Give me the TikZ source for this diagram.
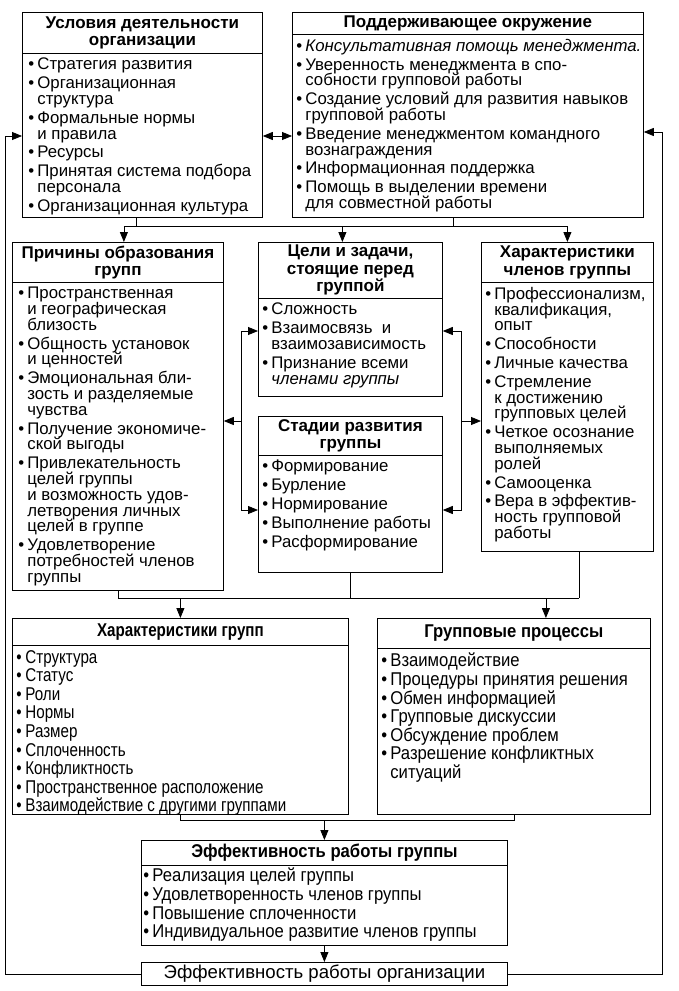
\documentclass[tikz,border=0pt]{standalone}
\usepackage{fontspec}
\setmainfont{Liberation Sans}
\newfontfamily\uzk[FakeStretch=0.9]{Liberation Sans}
\newfontfamily\uzkk[FakeStretch=0.82]{Liberation Sans}
\usetikzlibrary{arrows.meta,positioning}
\newcommand{\pnkt}{\makebox[9pt][l]{\textbullet}}
\newcommand{\otst}{\hspace*{9pt}}
\begin{document}
\fontsize{16.8}{15.8}\selectfont\lineskiplimit=-20pt
\begin{tikzpicture}[x=1pt,y=-1pt,line width=0.8pt,
  ramka/.style={draw,anchor=north west,inner sep=0pt},
  zag/.style={draw,anchor=north west,inner sep=0pt,align=center,font=\fontsize{17}{17.5}\selectfont\bfseries},
  spis/.style={anchor=north west,align=left,inner xsep=6pt,inner ysep=4pt},
  nspis/.style={spis,font=\uzk\fontsize{18.5}{18.6}\selectfont},
  nzag/.style={zag,font=\uzk\fontsize{18.5}{18.6}\selectfont\bfseries},
  str/.style={-{Triangle[length=10pt,width=8pt]}},
  dstr/.style={{Triangle[length=10pt,width=8pt]}-{Triangle[length=10pt,width=8pt]}}]
\useasboundingbox (0,0) rectangle (678,991);
% upper boxes
\node[ramka,minimum width=240pt,minimum height=205pt] (usl) at (22,12) {};
\node[zag,minimum width=240pt,minimum height=41pt] (uslZ) at (usl.north west) {Условия деятельности\\организации};
\node[spis] (uslS) at (uslZ.south west) {\pnkt Стратегия развития\\[3pt]
\pnkt Организационная\\ \otst структура\\[3pt]
\pnkt Формальные нормы\\ \otst и правила\\[3pt]
\pnkt Ресурсы\\[3pt]
\pnkt Принятая система подбора\\ \otst персонала\\[3pt]
\pnkt Организационная культура};
\node[ramka,minimum width=351pt,minimum height=205pt] (pod) at (292,12) {};
\node[zag,minimum width=351pt,minimum height=22pt] (podZ) at (pod.north west) {Поддерживающее окружение};
\node[spis,inner xsep=4pt] (podS) at (podZ.south west) {\pnkt\textit{Консультативная помощь менеджмента.}\\[3pt]
\pnkt Уверенность менеджмента в спо-\\ \otst собности групповой работы\\[3pt]
\pnkt Создание условий для развития навыков\\ \otst групповой работы\\[3pt]
\pnkt Введение менеджментом командного\\ \otst вознаграждения\\[3pt]
\pnkt Информационная поддержка\\[3pt]
\pnkt Помощь в выделении времени\\ \otst для совместной работы};
% middle boxes
\node[ramka,minimum width=211pt,minimum height=348pt] (pri) at (12,242) {};
\node[zag,minimum width=211pt,minimum height=40pt] (priZ) at (pri.north west) {Причины образования\\групп};
\node[spis] (priS) at (priZ.south west) {\pnkt Пространственная\\ \otst и географическая\\ \otst близость\\[3pt]
\pnkt Общность установок\\ \otst и ценностей\\[3pt]
\pnkt Эмоциональная бли-\\ \otst зость и разделяемые\\ \otst чувства\\[3pt]
\pnkt Получение экономиче-\\ \otst ской выгоды\\[3pt]
\pnkt Привлекательность\\ \otst целей группы\\ \otst и возможность удов-\\ \otst летворения личных\\ \otst целей в группе\\[3pt]
\pnkt Удовлетворение\\ \otst потребностей членов\\ \otst группы};
\node[ramka,minimum width=184pt,minimum height=154pt] (cel) at (258,242) {};
\node[zag,minimum width=184pt,minimum height=56pt] (celZ) at (cel.north west) {Цели и задачи,\\стоящие перед\\группой};
\node[spis,inner xsep=4pt] (celS) at (celZ.south west) {\pnkt Сложность\\[3pt]
\pnkt Взаимосвязь\ \ и\\ \otst взаимозависимость\\[3pt]
\pnkt Признание всеми\\ \otst\textit{членами группы}};
\node[ramka,minimum width=184pt,minimum height=156pt] (sta) at (258,416) {};
\node[zag,minimum width=184pt,minimum height=39pt] (staZ) at (sta.north west) {Стадии развития\\группы};
\node[spis,inner xsep=4pt] (staS) at (staZ.south west) {\pnkt Формирование\\[3pt]
\pnkt Бурление\\[3pt]
\pnkt Нормирование\\[3pt]
\pnkt Выполнение работы\\[3pt]
\pnkt Расформирование};
\node[ramka,minimum width=172pt,minimum height=309pt] (chl) at (481,242) {};
\node[zag,minimum width=172pt,minimum height=40pt] (chlZ) at (chl.north west) {Характеристики\\членов группы};
\node[spis,inner xsep=4pt] (chlS) at (chlZ.south west) {\pnkt Профессионализм,\\ \otst квалификация,\\ \otst опыт\\[3pt]
\pnkt Способности\\[3pt]
\pnkt Личные качества\\[3pt]
\pnkt Стремление\\ \otst к достижению\\ \otst групповых целей\\[3pt]
\pnkt Четкое осознание\\ \otst выполняемых\\ \otst ролей\\[3pt]
\pnkt Самооценка\\[3pt]
\pnkt Вера в эффектив-\\ \otst ность групповой\\ \otst работы};
% lower boxes
\node[ramka,minimum width=336pt,minimum height=196pt] (grh) at (12,618) {};
\node[nzag,minimum width=336pt,minimum height=27pt,font=\uzkk\fontsize{18.5}{18.6}\selectfont\bfseries] (grhZ) at (grh.north west) {Характеристики групп};
\node[nspis,inner xsep=4pt,font=\uzkk\fontsize{18.5}{18.6}\selectfont] (grhS) at (grhZ.south west) {\pnkt Структура\\ \pnkt Статус\\ \pnkt Роли\\ \pnkt Нормы\\ \pnkt Размер\\
\pnkt Сплоченность\\ \pnkt Конфликтность\\ \pnkt Пространственное расположение\\ \pnkt Взаимодействие с другими группами};
\node[ramka,minimum width=273pt,minimum height=196pt] (grp) at (377,618) {};
\node[nzag,minimum width=273pt,minimum height=30pt] (grpZ) at (grp.north west) {Групповые процессы};
\node[nspis,inner xsep=4pt] (grpS) at (grpZ.south west) {\pnkt Взаимодействие\\ \pnkt Процедуры принятия решения\\ \pnkt Обмен информацией\\
\pnkt Групповые дискуссии\\ \pnkt Обсуждение проблем\\ \pnkt Разрешение конфликтных\\ \otst ситуаций};
\node[ramka,minimum width=366pt,minimum height=105pt] (eff) at (141,840) {};
\node[nzag,minimum width=366pt,minimum height=25pt] (effZ) at (eff.north west) {Эффективность работы группы};
\node[nspis,inner xsep=2pt,inner ysep=2pt] (effS) at (effZ.south west) {\pnkt Реализация целей группы\\ \pnkt Удовлетворенность членов группы\\
\pnkt Повышение сплоченности\\ \pnkt Индивидуальное развитие членов группы};
\node[ramka,minimum width=366pt,minimum height=23pt,font=\fontsize{18.6}{18.6}\selectfont] (org) at (141,962) {Эффективность работы организации};
% levels of the connectors
\coordinate (fbL) at (5,136);
\coordinate (fbR) at (662,132);
\coordinate (urA) at (0,226);
\coordinate (urB) at (0,598);
\coordinate (urC) at (0,820);
\coordinate (skL) at (241,0);
\coordinate (skR) at (461,0);
\coordinate (yC) at (0,331);
\coordinate (yM) at (0,421);
\coordinate (yS) at (0,510);
% connectors
\draw[dstr] (usl.east |- fbL) -- (pod.west |- fbL);
\draw[str] (org.west) -| (fbL) -- (usl.west |- fbL);
\draw[str] (org.east) -| (fbR) -- (pod.east |- fbR);
\draw ([xshift=-6pt]usl.south) -- ([xshift=-6pt]usl.south |- urA);
\draw ([xshift=-15pt]pod.south) -- ([xshift=-15pt]pod.south |- urA);
\draw ([xshift=6pt]pri.north |- urA) -- (chl.north |- urA);
\draw[str] ([xshift=6pt]pri.north |- urA) -- ([xshift=6pt]pri.north);
\draw[str] ([xshift=-8pt]cel.north |- urA) -- ([xshift=-8pt]cel.north);
\draw[str] (chl.north |- urA) -- (chl.north);
\draw[dstr] (cel.west |- yC) -| (skL |- yS) -- (sta.west |- yS);
\draw[str] (skL |- yM) -- (pri.east |- yM);
\draw[dstr] (cel.east |- yC) -| (skR |- yS) -- (sta.east |- yS);
\draw[str] (skR |- yM) -- (chl.west |- yM);
\draw (pri.south) -- (pri.south |- urB);
\draw (sta.south) -- (sta.south |- urB);
\draw ([xshift=12pt]chl.south) -- ([xshift=12pt]chl.south |- urB);
\draw (pri.south |- urB) -- ([xshift=12pt]chl.south |- urB);
\draw[str] (grh.north |- urB) -- (grh.north);
\draw[str] ([xshift=32pt]grp.north |- urB) -- ([xshift=32pt]grp.north);
\draw (grh.south) |- (grp.south |- urC) -- (grp.south);
\draw[str] (eff.north |- urC) -- (eff.north);
\draw[str] (eff.south) -- (org.north);
\end{tikzpicture}
\end{document}
